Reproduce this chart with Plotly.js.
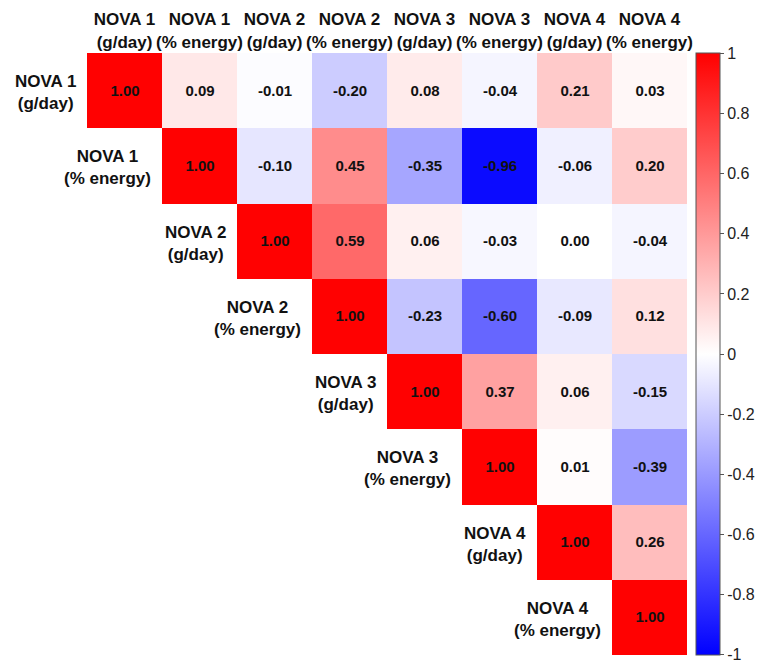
<!DOCTYPE html>
<html>
<head>
<meta charset="utf-8">
<script src="https://cdn.plot.ly/plotly-3.0.1.min.js"></script>
<style>html,body{margin:0;padding:0;background:#fff;}#chart{width:763px;height:662px;}</style>
</head>
<body>
<div id="chart"></div>
<script>
// Variable labels (columns and rows share the same order)
const labels = [
  "NOVA 1<br>(g/day)", "NOVA 1<br>(% energy)",
  "NOVA 2<br>(g/day)", "NOVA 2<br>(% energy)",
  "NOVA 3<br>(g/day)", "NOVA 3<br>(% energy)",
  "NOVA 4<br>(g/day)", "NOVA 4<br>(% energy)"
];

// Upper-triangle correlation values, one array per row (null = empty lower triangle)
const row1 = [1.00, 0.09, -0.01, -0.20, 0.08, -0.04, 0.21, 0.03];
const row2 = [null, 1.00, -0.10, 0.45, -0.35, -0.96, -0.06, 0.20];
const row3 = [null, null, 1.00, 0.59, 0.06, -0.03, 0.00, -0.04];
const row4 = [null, null, null, 1.00, -0.23, -0.60, -0.09, 0.12];
const row5 = [null, null, null, null, 1.00, 0.37, 0.06, -0.15];
const row6 = [null, null, null, null, null, 1.00, 0.01, -0.39];
const row7 = [null, null, null, null, null, null, 1.00, 0.26];
const row8 = [null, null, null, null, null, null, null, 1.00];

const colorbarTicks = [-1, -0.8, -0.6, -0.4, -0.2, 0, 0.2, 0.4, 0.6, 0.8, 1];

const z = [row1, row2, row3, row4, row5, row6, row7, row8];
const idx = labels.map((_, i) => i);
const text = z.map(r => r.map(v => v === null ? "" : v.toFixed(2)));

const FONT = "Liberation Sans, Arial, sans-serif";

const trace = {
  type: "heatmap",
  x: idx,
  y: idx,
  z: z,
  text: text,
  texttemplate: "%{text}",
  textfont: {family: FONT, size: 15, color: "#111", weight: "bold"},
  zmin: -1.002, zmax: 1.002,
  colorscale: [[0, "rgb(0,0,255)"], [0.5, "rgb(255,255,255)"], [1, "rgb(255,0,0)"]],
  hoverongaps: false,
  colorbar: {
    x: 1.0155, xanchor: "left", xpad: 0, ypad: 0,
    y: 0.5, yanchor: "middle", len: 1, lenmode: "fraction",
    thickness: 24,
    outlinewidth: 1, outlinecolor: "#555",
    tickmode: "array",
    tickvals: colorbarTicks,
    ticktext: colorbarTicks.map(v => String(v)),
    ticks: "outside", ticklen: 4, tickcolor: "#555",
    ticklabeloverflow: "allow",
    tickfont: {family: FONT, size: 16, color: "#222"}
  }
};

const annotations = labels.map((lab, i) => ({
  xref: "x", yref: "y",
  x: i - 0.5, y: i,
  text: lab,
  showarrow: false,
  xanchor: "right", yanchor: "middle",
  xshift: -9, yshift: -2,
  align: "center",
  font: {family: FONT, size: 17, color: "#111", weight: "bold"}
}));

const layout = {
  width: 763, height: 662,
  margin: {l: 87, r: 73, t: 53, b: 7},
  paper_bgcolor: "#fff", plot_bgcolor: "#fff",
  xaxis: {
    side: "top",
    tickmode: "array", tickvals: idx, ticktext: labels,
    range: [-0.5, 7.5],
    tickangle: 0,
    showgrid: false, zeroline: false, showline: false, ticks: "",
    ticklabelstandoff: 1,
    tickfont: {family: FONT, size: 17, color: "#111", weight: "bold"},
    fixedrange: true
  },
  yaxis: {
    range: [7.5, -0.5],
    showgrid: false, zeroline: false, showline: false,
    showticklabels: false, ticks: "",
    fixedrange: true
  },
  annotations: annotations,
  showlegend: false
};

Plotly.newPlot("chart", [trace], layout, {displayModeBar: false, staticPlot: true});
</script>
</body>
</html>
